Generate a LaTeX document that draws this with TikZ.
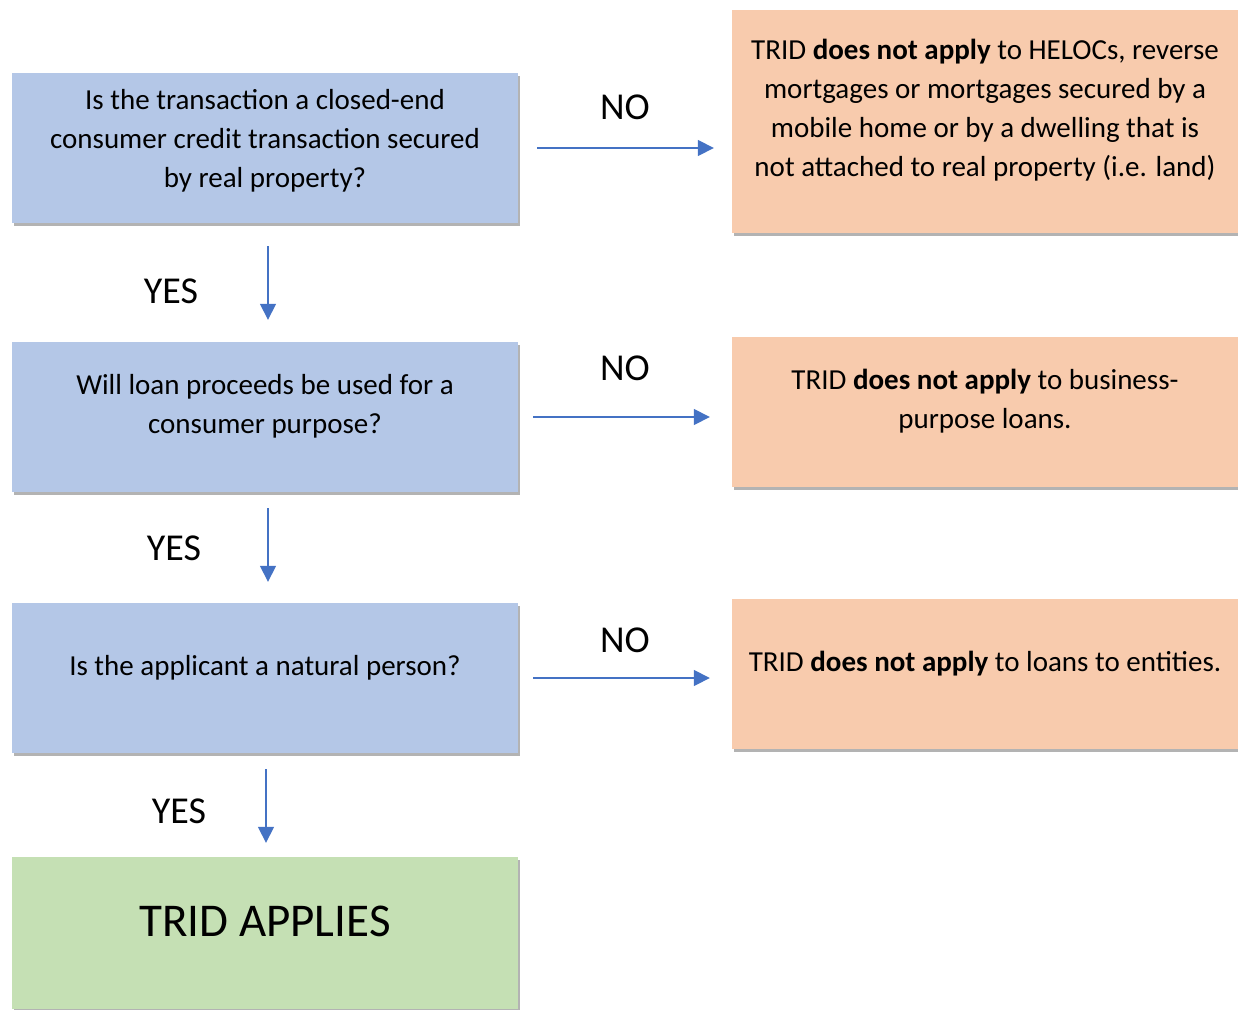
\documentclass[tikz,border=0pt]{standalone}
\usepackage{fontspec}
\setmainfont{Carlito}
\usetikzlibrary{arrows.meta,shadows}

\definecolor{qblue}{HTML}{B4C7E7}
\definecolor{nopeach}{HTML}{F8CBAD}
\definecolor{okgreen}{HTML}{C5E0B4}
\definecolor{arrowblue}{HTML}{4472C4}

\begin{document}
\begin{tikzpicture}[x=1pt,y=-1pt,
    box/.style={rectangle,minimum width=506pt,minimum height=150pt,inner sep=0pt,
        drop shadow={shadow xshift=2pt,shadow yshift=-3pt,fill=black!50,opacity=.6}},
    qbox/.style={box,fill=qblue},
    nobox/.style={box,fill=nopeach},
    txt/.style={align=center,inner sep=0pt,font=\fontsize{29}{39}\selectfont},
    tag/.style={inner sep=0pt,font=\fontsize{38}{44}\selectfont},
    flow/.style={arrowblue,line width=1.6pt,-{Triangle[length=16pt,width=16pt]}}]
    \useasboundingbox (0,0) rectangle (1238,1009);

    % draw the question boxes
    \node[qbox] (q1) at (265,148) {};
    \node[qbox] (q2) at (265,417) {};
    \node[qbox] (q3) at (265,678) {};
    \node[box,fill=okgreen,minimum height=152pt] (yes) at (265,933) {};

    % draw the answer boxes
    \node[nobox,minimum height=223pt] (n1) at (985,121.5) {};
    \node[nobox] (n2) at (985,412) {};
    \node[nobox] (n3) at (985,674) {};

    % the texts
    \node[txt] (q1t) at (265,141) {Is the transaction a closed-end\\consumer credit transaction secured\\by real property?};
    \node[txt] (q2t) at (265,406) {Will loan proceeds be used for a\\consumer purpose?};
    \node[txt] (q3t) at (265,668) {Is the applicant a natural person?};
    \node[inner sep=0pt,font=\fontsize{47}{54}\selectfont] (yest) at (265,921) {TRID APPLIES};
    \node[txt] (n1t) at (985,110) {TRID \textbf{does not apply} to HELOCs, reverse\\mortgages or mortgages secured by a\\mobile home or by a dwelling that is\\not attached to real property (i.e. land)};
    \node[txt] (n2t) at (985,401) {TRID \textbf{does not apply} to business-\\purpose loans.};
    \node[txt] (n3t) at (985,664) {TRID \textbf{does not apply} to loans to entities.};

    % draw the NO arrows
    \draw[flow,shorten <=19pt,shorten >=18pt] (q1.east) -- (q1.east -| n1.west);
    \draw[flow,shorten <=15pt,shorten >=22pt] (q2.east) -- (q2.east -| n2.west);
    \draw[flow,shorten <=15pt,shorten >=22pt] (q3.east) -- (q3.east -| n3.west);
    \node[tag] (no1) at (625,107) {NO};
    \node[tag] (no2) at (625,368) {NO};
    \node[tag] (no3) at (625,640) {NO};

    % draw the YES arrows
    \draw[flow,shorten <=23pt,shorten >=22pt] ([xshift=3pt]q1.south) -- ([xshift=3pt]q2.north);
    \draw[flow,shorten <=16pt,shorten >=21pt] ([xshift=3pt]q2.south) -- ([xshift=3pt]q3.north);
    \draw[flow,shorten <=16pt,shorten >=14pt] ([xshift=1pt]q3.south) -- ([xshift=1pt]yes.north);
    \node[tag] (yes1) at (171,291) {YES};
    \node[tag] (yes2) at (174,548) {YES};
    \node[tag] (yes3) at (179,811) {YES};

\end{tikzpicture}
\end{document}
